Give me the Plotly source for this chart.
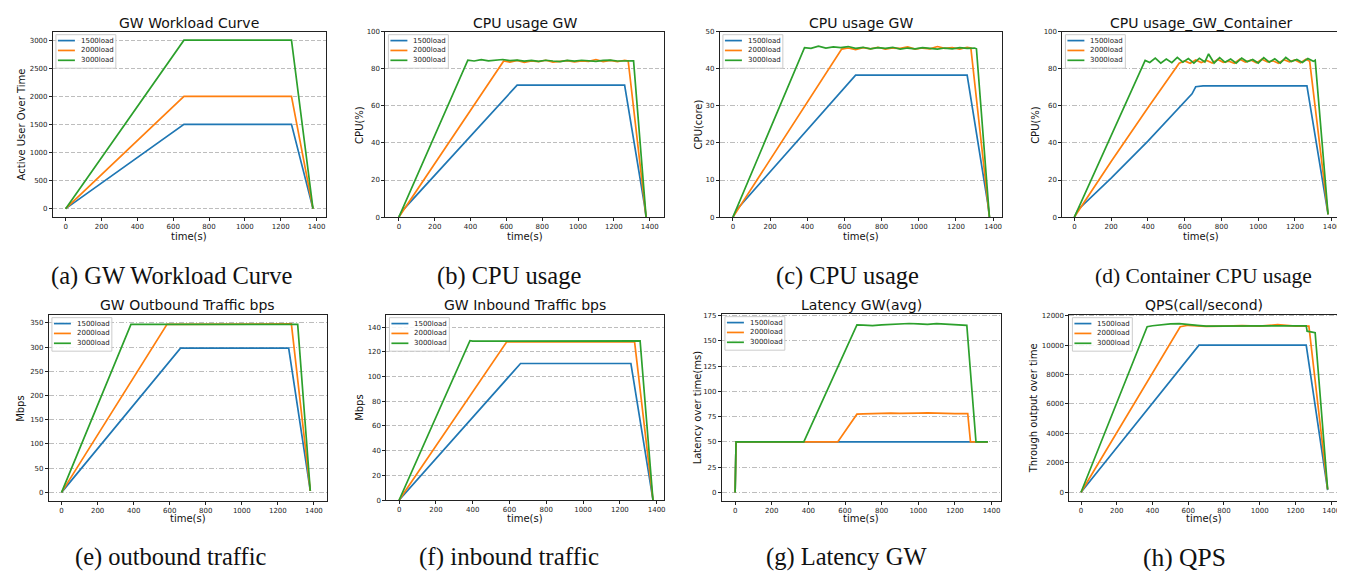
import plotly.graph_objects as go

W, H = 1345, 571
LOADS = ["1500load", "2000load", "3000load"]
COLORS = ["#1f77b4", "#ff7f0e", "#2ca02c"]

# ---------------- data ----------------
# (a) GW Workload Curve
a_t = [0, 660, 1260, 1380]
a_1500 = [0, 1500, 1500, 0]
a_2000 = [0, 2000, 2000, 0]
a_3000 = [0, 3000, 3000, 0]

# (b) CPU usage GW (%)
b_t_1500 = [0, 20, 660, 1260, 1370, 1380]
b_1500 = [0, 3.5, 71.2, 71.2, 7, 0]
b_t_2000 = [0, 585, 620, 660, 700, 740, 780, 820, 860, 900, 940, 980, 1020,
            1060, 1100, 1140, 1180, 1220, 1260, 1280, 1380]
b_2000 = [0, 84.2, 83.6, 84.5, 83.5, 84.3, 83.9, 84.6, 83.6, 84.2, 84.4, 83.7,
          84.3, 84.0, 85.0, 83.9, 84.5, 83.8, 84.6, 84.2, 0]
b_t_3000 = [0, 385, 420, 460, 500, 540, 580, 620, 660, 700, 740, 780, 820, 860,
            900, 940, 980, 1020, 1060, 1100, 1140, 1180, 1220, 1260, 1300, 1310, 1380]
b_3000 = [0, 84.6, 84.2, 84.9, 84.3, 84.8, 85.0, 84.4, 84.7, 84.1, 84.5, 84.0,
          84.6, 84.2, 83.9, 84.5, 84.1, 84.6, 84.3, 84.0, 84.5, 84.7, 84.2, 84.4,
          84.6, 84.3, 0]

# (c) CPU usage GW (core)
c_t_1500 = [0, 20, 660, 1260, 1370, 1380]
c_1500 = [0, 2, 38.3, 38.3, 4, 0]
c_t_2000 = [0, 585, 620, 660, 700, 740, 780, 820, 860, 900, 940, 980, 1020,
            1060, 1100, 1140, 1180, 1220, 1260, 1280, 1380]
c_2000 = [0, 45.3, 45.6, 45.2, 45.7, 45.4, 45.8, 45.3, 45.6, 45.5, 45.9, 45.3,
          45.6, 45.4, 46.0, 45.5, 45.7, 45.3, 45.8, 45.6, 0]
c_t_3000 = [0, 385, 420, 460, 500, 540, 580, 620, 660, 700, 740, 780, 820, 860,
            900, 940, 980, 1020, 1060, 1100, 1140, 1180, 1220, 1260, 1300, 1310, 1380]
c_3000 = [0, 45.7, 45.5, 46.1, 45.6, 45.9, 45.7, 46.0, 45.5, 45.8, 45.4, 45.7,
          45.5, 45.8, 45.3, 45.6, 45.4, 45.7, 45.5, 45.3, 45.6, 45.4, 45.7, 45.5,
          45.6, 45.4, 0]

# (d) CPU usage_GW_Container (%)
d_t_1500 = [0, 20, 200, 400, 640, 660, 700, 1265, 1380]
d_1500 = [0, 4, 21, 41, 66.5, 70.3, 70.8, 70.8, 1.5]
d_t_2000 = [0, 200, 400, 570, 600, 630, 660, 690, 720, 750, 780, 810, 840, 870,
            900, 930, 960, 990, 1020, 1050, 1080, 1110, 1140, 1170, 1200, 1230,
            1260, 1280, 1380]
d_2000 = [0, 30, 59, 83, 84.2, 83.0, 84.8, 83.4, 84.5, 83.1, 85.0, 83.5, 84.1,
          83.0, 85.1, 83.6, 84.7, 83.2, 85.2, 83.7, 84.3, 83.0, 84.9, 83.8, 84.8,
          83.3, 85.1, 84.0, 1.5]
d_t_3000 = [0, 385, 410, 440, 470, 500, 530, 560, 590, 620, 650, 680, 710, 730,
            760, 790, 820, 850, 880, 910, 940, 970, 1000, 1030, 1060, 1090, 1120,
            1150, 1180, 1210, 1240, 1270, 1300, 1310, 1380]
d_3000 = [0, 84.5, 83.4, 85.8, 83.0, 85.2, 83.3, 86.2, 83.6, 85.5, 83.0, 85.7,
          83.7, 88.0, 83.1, 86.0, 83.5, 85.3, 83.0, 85.8, 83.8, 85.0, 83.1, 86.0,
          83.6, 85.4, 83.1, 86.1, 83.9, 85.0, 83.4, 85.5, 84.0, 84.6, 1.5]

# (e) GW Outbound Traffic bps (Mbps)
e_t_1500 = [0, 660, 1260, 1380]
e_1500 = [0, 298, 298, 3]
e_t_2000 = [0, 585, 1275, 1380]
e_2000 = [0, 347, 348, 3]
e_t_3000 = [0, 385, 1310, 1380]
e_3000 = [0, 347, 347, 3]

# (f) GW Inbound Traffic bps (Mbps)
f_t_1500 = [0, 660, 1260, 1380]
f_1500 = [0, 110.5, 110.5, 0]
f_t_2000 = [0, 585, 1280, 1380]
f_2000 = [0, 128, 128, 0]
f_t_3000 = [0, 385, 400, 1310, 1380]
f_3000 = [0, 129, 128.6, 128.8, 0]

# (g) Latency GW(avg) (ms)
g_t_1500 = [0, 5, 1380]
g_1500 = [0, 50, 50]
g_t_2000 = [0, 5, 560, 665, 700, 750, 800, 850, 900, 950, 1000, 1050, 1100,
            1150, 1200, 1270, 1285, 1380]
g_2000 = [0, 50, 50, 77.5, 77.8, 78.2, 78.0, 78.5, 78.3, 78.8, 78.6, 78.9, 78.4,
          78.6, 78.1, 78.0, 50, 50]
g_t_3000 = [0, 5, 375, 665, 700, 750, 800, 850, 900, 950, 1000, 1050, 1100,
            1150, 1200, 1250, 1265, 1315, 1380]
g_3000 = [0, 50, 50, 166, 165.6, 165.2, 165.9, 166.4, 166.8, 167.3, 167.0, 166.5,
          167.2, 166.6, 166.3, 166.0, 165.5, 50, 50]

# (h) QPS(call/second)
h_t_1500 = [0, 660, 1260, 1380]
h_1500 = [0, 10000, 10000, 150]
h_t_2000 = [0, 555, 600, 700, 800, 900, 1000, 1100, 1200, 1275, 1380]
h_2000 = [0, 11250, 11350, 11280, 11300, 11330, 11300, 11390, 11300, 11300, 200]
h_t_3000 = [0, 370, 400, 450, 500, 550, 600, 650, 700, 800, 900, 1000, 1100,
            1200, 1260, 1265, 1300, 1310, 1380]
h_3000 = [0, 11250, 11320, 11400, 11450, 11460, 11430, 11350, 11300, 11300,
          11300, 11280, 11300, 11280, 11320, 10950, 10900, 10850, 200]

X_TICKS = [0, 200, 400, 600, 800, 1000, 1200, 1400]

PANELS = [
    dict(title="GW Workload Curve", ylabel="Active User Over Time",
         caption="(a) GW Workload Curve",
         series=[(a_t, a_1500), (a_t, a_2000), (a_t, a_3000)],
         yticks=[0, 500, 1000, 1500, 2000, 2500, 3000]),
    dict(title="CPU usage GW", ylabel="CPU(%)", caption="(b) CPU usage",
         series=[(b_t_1500, b_1500), (b_t_2000, b_2000), (b_t_3000, b_3000)],
         yticks=[0, 20, 40, 60, 80, 100]),
    dict(title="CPU usage GW", ylabel="CPU(core)", caption="(c) CPU usage",
         series=[(c_t_1500, c_1500), (c_t_2000, c_2000), (c_t_3000, c_3000)],
         yticks=[0, 10, 20, 30, 40, 50]),
    dict(title="CPU usage_GW_Container", ylabel="CPU(%)",
         caption="(d) Container CPU usage",
         series=[(d_t_1500, d_1500), (d_t_2000, d_2000), (d_t_3000, d_3000)],
         yticks=[0, 20, 40, 60, 80, 100]),
    dict(title="GW Outbound Traffic bps", ylabel="Mbps",
         caption="(e) outbound traffic",
         series=[(e_t_1500, e_1500), (e_t_2000, e_2000), (e_t_3000, e_3000)],
         yticks=[0, 50, 100, 150, 200, 250, 300, 350]),
    dict(title="GW Inbound Traffic bps", ylabel="Mbps",
         caption="(f) inbound traffic",
         series=[(f_t_1500, f_1500), (f_t_2000, f_2000), (f_t_3000, f_3000)],
         yticks=[0, 20, 40, 60, 80, 100, 120, 140]),
    dict(title="Latency GW(avg)", ylabel="Latency over time(ms)",
         caption="(g) Latency GW",
         series=[(g_t_1500, g_1500), (g_t_2000, g_2000), (g_t_3000, g_3000)],
         yticks=[0, 25, 50, 75, 100, 125, 150, 175]),
    dict(title="QPS(call/second)", ylabel="Through output over time",
         caption="(h) QPS",
         series=[(h_t_1500, h_1500), (h_t_2000, h_2000), (h_t_3000, h_3000)],
         yticks=[0, 2000, 4000, 6000, 8000, 10000, 12000]),
]

# ---------------- layout (pixel geometry) ----------------
BOX = [  # left, right, top, bottom in px
    (45, 318, 20, 208), (378, 657, 20, 208), (713, 995, 20, 208), (1056, 1334, 20, 208),
    (41, 319, 307, 496), (379, 657, 307, 495), (715, 994, 306, 496), (1063, 1332, 307, 496),
]
XRANGES = [(-71, 1450), (-75, 1480), (-70, 1445), (-65, 1445),
           (-70, 1470), (-69, 1440), (-72, 1449), (-65, 1438)]
YRANGES = [(-150, 3150), (0, 100), (0, 50), (0, 100),
           (-18, 367), (0, 150), (-8.5, 177), (-600, 12070)]
GRIDDASH = ["4px,2px", "4px,2px", "5px,2px,1px,2px", "5px,2px,1px,2px",
            "5px,2px,1px,2px", "4px,2px", "5px,2px,1px,2px", "5px,2px,1px,2px"]
YLABEL_X = [13, 352, 691, 1029, 13, 352, 690, 1027]
CAPTION_X = [164, 502, 841, 1197, 163, 502, 840, 1178]
CAPTION_SIZE = [24.5, 24.5, 24.5, 21.5, 24.5, 25, 24.5, 25.5]
TITLE_Y = [11, 11, 11, 11, 297, 297, 297, 297]
XLABEL_Y = [228, 228, 228, 228, 514, 514, 514, 514]
CAPTION_Y = [268, 268, 268, 268, 553, 553, 553, 553]

TICK_FONT = dict(family="DejaVu Sans", size=7, color="#222")
LABEL_FONT = dict(family="DejaVu Sans", size=10, color="#111")
TITLE_FONT = dict(family="DejaVu Sans", size=14, color="#111")
LEG_FONT = dict(family="DejaVu Sans", size=7, color="#222")
CAP_FAMILY = "Liberation Serif, Times New Roman, serif"

fig = go.Figure()
layout = dict(width=W, height=H, margin=dict(l=0, r=0, t=0, b=0),
              paper_bgcolor="white", plot_bgcolor="white", showlegend=False)
annotations = []
shapes = []


def px_x(v):
    return v / W


def px_y(v):
    return 1 - v / H


for i, p in enumerate(PANELS):
    k = "" if i == 0 else str(i + 1)
    left, right, top, bottom = BOX[i]
    for j, (t, y) in enumerate(p["series"]):
        fig.add_trace(go.Scatter(
            x=t, y=y, mode="lines", name=LOADS[j],
            line=dict(color=COLORS[j], width=1.7),
            xaxis="x" + k, yaxis="y" + k, showlegend=False))
    layout["xaxis" + k] = dict(
        domain=[left / W, right / W], anchor="y" + k, range=list(XRANGES[i]),
        tickvals=X_TICKS, ticks="outside", ticklen=3, tickwidth=1, tickcolor="#222",
        showgrid=False, zeroline=False, showline=True, linecolor="#222",
        linewidth=1, mirror=True, tickfont=TICK_FONT)
    layout["yaxis" + k] = dict(
        domain=[1 - bottom / H, 1 - top / H], anchor="x" + k, range=list(YRANGES[i]),
        tickvals=p["yticks"], tickformat="d", ticks="outside", ticklen=3, tickwidth=1,
        tickcolor="#222",
        showgrid=True, gridcolor="#bdbdbd", griddash=GRIDDASH[i], gridwidth=1,
        zeroline=False, showline=True, linecolor="#222", linewidth=1, mirror=True,
        tickfont=TICK_FONT)

    # legend box (upper left, like matplotlib's)
    lx0, ly0 = left + 3, top + 3
    shapes.append(dict(type="rect", xref="paper", yref="paper", layer="above",
                       x0=px_x(lx0), x1=px_x(lx0 + 60), y0=px_y(ly0), y1=px_y(ly0 + 34),
                       line=dict(color="#cccccc", width=1),
                       fillcolor="rgba(255,255,255,0.85)"))
    for j, name in enumerate(LOADS):
        ry = ly0 + 6 + 10 * j
        shapes.append(dict(type="line", xref="paper", yref="paper", layer="above",
                           x0=px_x(lx0 + 2), x1=px_x(lx0 + 19), y0=px_y(ry), y1=px_y(ry),
                           line=dict(color=COLORS[j], width=1.7)))
        annotations.append(dict(text=name, x=px_x(lx0 + 23), y=px_y(ry),
                                xref="paper", yref="paper", showarrow=False,
                                xanchor="left", yanchor="middle", font=LEG_FONT))

    cx = (left + right) / 2
    annotations.append(dict(text=p["title"], x=cx / W, y=1 - TITLE_Y[i] / H,
                            xref="paper", yref="paper", showarrow=False,
                            xanchor="center", yanchor="middle", font=TITLE_FONT))
    annotations.append(dict(text="time(s)", x=cx / W, y=1 - XLABEL_Y[i] / H,
                            xref="paper", yref="paper", showarrow=False,
                            xanchor="center", yanchor="middle", font=LABEL_FONT))
    annotations.append(dict(text=p["ylabel"], x=YLABEL_X[i] / W,
                            y=1 - (top + bottom) / 2 / H, textangle=-90,
                            xref="paper", yref="paper", showarrow=False,
                            xanchor="center", yanchor="middle", font=LABEL_FONT))
    annotations.append(dict(text=p["caption"], x=CAPTION_X[i] / W,
                            y=1 - CAPTION_Y[i] / H,
                            xref="paper", yref="paper", showarrow=False,
                            xanchor="center", yanchor="middle",
                            font=dict(family=CAP_FAMILY, size=CAPTION_SIZE[i],
                                      color="#111")))

layout["annotations"] = annotations
layout["shapes"] = shapes
fig.update_layout(**layout)
fig.write_html("out.html")
